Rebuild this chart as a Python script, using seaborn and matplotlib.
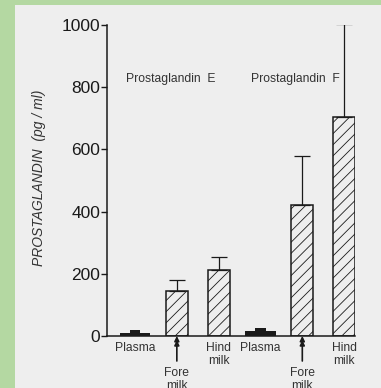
import matplotlib
matplotlib.use("Agg")
import matplotlib.pyplot as plt
from matplotlib.patches import Rectangle
import seaborn as sns

# values (pg/ml)
keys = ["pe_plasma", "pe_fore", "pe_hind", "pf_plasma", "pf_fore", "pf_hind"]
labels = ["Plasma", "Fore\nmilk", "Hind\nmilk", "Plasma", "Fore\nmilk", "Hind\nmilk"]
means = [10, 145, 212, 16, 421, 704]
upper_err = [10, 35, 42, 10, 158, 299]
is_plasma = [True, False, False, True, False, False]
group_titles = ["Prostaglandin  E", "Prostaglandin  F"]
yticks = [0, 200, 400, 600, 800, 1000]

sns.set_style("ticks")
plt.rcParams["font.family"] = ["Liberation Sans", "DejaVu Sans"]
plt.rcParams["hatch.linewidth"] = 0.6

green = "#b4d8a2"
paper = "#eeeeee"
ink = "#1a1a1a"

fig = plt.figure(figsize=(3.81, 3.88), dpi=100, facecolor=green)
fig.patches.append(Rectangle((15 / 381, 0), 1, 1 - 5 / 388, transform=fig.transFigure,
                             facecolor=paper, edgecolor="none", zorder=-10))
ax = fig.add_axes([107 / 381, 52 / 388, 248 / 381, 311 / 388])
ax.set_facecolor("none")

sns.barplot(x=keys, y=means, order=keys, color=paper, saturation=1, width=0.52,
            errorbar=None, ax=ax)

for i, p in enumerate(ax.patches):
    if is_plasma[i]:
        cx = p.get_x() + p.get_width() / 2
        p.set_width(0.74)
        p.set_x(cx - 0.37)
        p.set_facecolor(ink)
        p.set_edgecolor(ink)
        p.set_linewidth(0)
    else:
        p.set_facecolor("none")
        p.set_edgecolor(ink)
        p.set_hatch("///")
        p.set_linewidth(1.1)

xs = list(range(len(keys)))
# error bars (one-sided, upward)
for i in xs:
    if is_plasma[i]:
        ax.bar(i, upper_err[i], bottom=means[i], width=0.25, color=ink, linewidth=0)
    else:
        ax.errorbar(i, means[i], yerr=[[0], [upper_err[i]]], fmt="none", ecolor=ink,
                    elinewidth=0.9, capsize=6, capthick=0.9, zorder=3)

ax.set_xlim(-0.67, 5.26)
ax.set_ylim(0, 1000)
ax.set_yticks(yticks)
ax.set_yticklabels([str(t) for t in yticks], fontsize=12.5, color=ink)
ax.tick_params(axis="y", length=4, width=1, pad=1, colors=ink)
ax.tick_params(axis="x", length=0)
ax.set_xticks([])
ax.set_xlabel("")
sns.despine(ax=ax)
for s in ["left", "bottom"]:
    ax.spines[s].set_color(ink)
    ax.spines[s].set_linewidth(1.1)

ax.set_ylabel("PROSTAGLANDIN  (pg / ml)", fontsize=10, style="italic", color="#333333")
ax.yaxis.set_label_coords(-0.245, 0.51)

for i, lab in enumerate(labels):
    if lab.startswith("Fore"):
        ax.annotate("", xy=(i, 0), xycoords=("data", "axes fraction"),
                    xytext=(0, -4), textcoords="offset points",
                    arrowprops=dict(arrowstyle="-|>", color=ink, lw=1.2,
                                    mutation_scale=7, shrinkA=0, shrinkB=0))
        ax.annotate("", xy=(i, 0), xycoords=("data", "axes fraction"),
                    xytext=(0, -18), textcoords="offset points",
                    arrowprops=dict(arrowstyle="-|>", color=ink, lw=1.2,
                                    mutation_scale=7, shrinkA=0, shrinkB=3))
        off = -22
    else:
        off = -4
    ax.annotate(lab, xy=(i, 0), xycoords=("data", "axes fraction"),
                xytext=(0, off), textcoords="offset points",
                ha="center", va="top", fontsize=8.7, color="#333333", linespacing=1.2)

ax.text(0.86, 826, group_titles[0], ha="center", va="center", fontsize=8.7, color="#333333")
ax.text(3.84, 826, group_titles[1], ha="center", va="center", fontsize=8.7, color="#333333")

fig.savefig("out.png", dpi=100, facecolor=green)
